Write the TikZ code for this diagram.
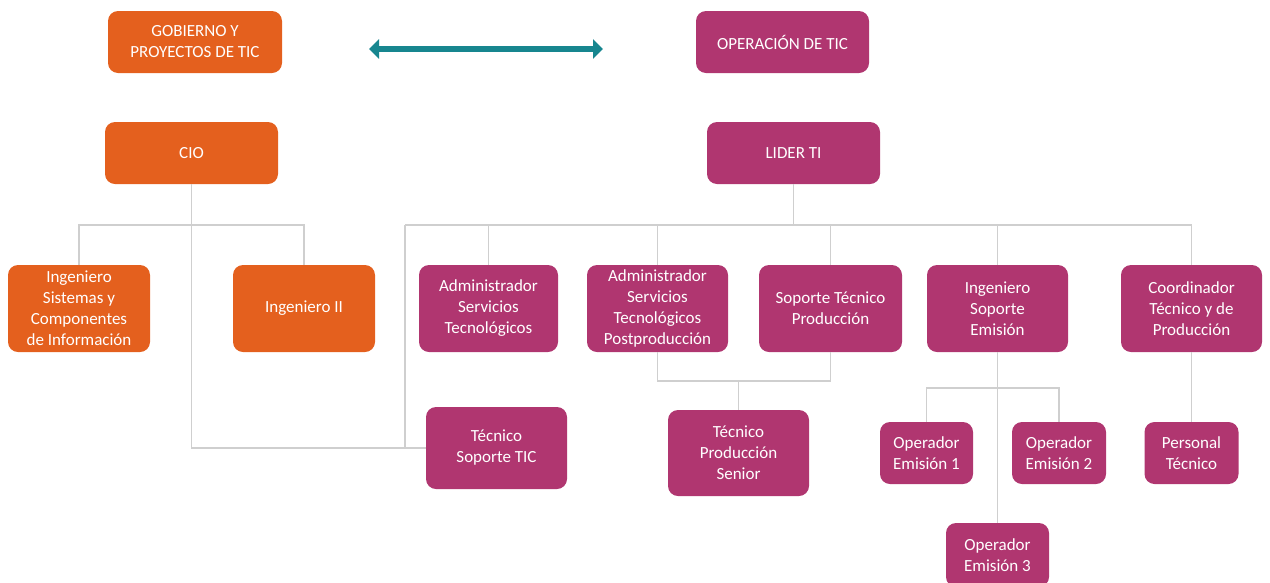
\documentclass[tikz,border=0pt]{standalone}
\usepackage{fontspec}
\setmainfont{Carlito}
\usetikzlibrary{arrows.meta}
\definecolor{orng}{HTML}{E4601E}
\definecolor{mgnt}{HTML}{B03670}
\definecolor{tealc}{HTML}{17868F}
\definecolor{linec}{HTML}{CFCFCF}
\tikzset{
  box/.style={rounded corners=10pt, text=white, align=center, inner sep=0pt,
    font=\fontsize{17}{21}\selectfont},
  obox/.style={box, fill=orng},
  mbox/.style={box, fill=mgnt},
  wide/.style={minimum width=142pt, minimum height=87pt},
  conn/.style={draw=linec, line width=1.1pt},
  tealarrow/.style={draw=tealc, line width=5.5pt,
    {Triangle[width=19pt,length=10pt]}-{Triangle[width=19pt,length=10pt]}}
}
\begin{document}
\begin{tikzpicture}[x=1pt,y=-1pt]
\useasboundingbox (0,0) rectangle (1270,582);
\clip (0,0) rectangle (1270,582);
% top row
\node[obox, minimum width=174pt, minimum height=62pt] (gob) at (195,42) {GOBIERNO Y\\PROYECTOS DE TIC};
\node[mbox, minimum width=173pt, minimum height=62pt] (oper) at (782.5,42) {OPERACIÓN DE TIC};
\coordinate (aL) at (369,49);
\coordinate (aR) at (603,49);
\draw[tealarrow] (aL) -- (aR);
% heads
\node[obox, minimum width=173pt, minimum height=62pt] (cio) at (191.5,153) {CIO};
\node[mbox, minimum width=173pt, minimum height=62pt] (lider) at (793.5,153) {LIDER TI};
% second level
\node[obox, wide] (isc) at (79,308.5) {Ingeniero\\Sistemas y\\Componentes\\de Información};
\node[obox, wide] (i2) at (304,308.5) {Ingeniero II};
\node[mbox, minimum width=139pt, minimum height=87pt] (ast) at (488.5,308.5) {Administrador\\Servicios\\Tecnológicos};
\node[mbox, minimum width=141pt, minimum height=87pt] (ap) at (657.5,308.5) {Administrador\\Servicios\\Tecnológicos\\Postproducción};
\node[mbox, minimum width=143pt, minimum height=87pt] (stp) at (830.5,308.5) {Soporte Técnico\\Producción};
\node[mbox, minimum width=141pt, minimum height=87pt] (ise) at (997.5,308.5) {Ingeniero\\Soporte\\Emisión};
\node[mbox, minimum width=141pt, minimum height=87pt] (coord) at (1191.5,308.5) {Coordinador\\Técnico y de\\Producción};
% third level
\node[mbox, minimum width=141pt, minimum height=82pt] (tst) at (496.5,448) {Técnico\\Soporte TIC};
\node[mbox, minimum width=141pt, minimum height=86pt] (tps) at (738.5,453) {Técnico\\Producción\\Senior};
\node[mbox, minimum width=93pt, minimum height=62pt] (op1) at (926.5,453) {Operador\\Emisión 1};
\node[mbox, minimum width=94pt, minimum height=62pt] (op2) at (1059,453) {Operador\\Emisión 2};
\node[mbox, minimum width=94pt, minimum height=62pt] (pt) at (1191.5,453) {Personal\\Técnico};
\node[mbox, minimum width=103pt, minimum height=64pt] (op3) at (997.5,555) {Operador\\Emisión 3};
% connectors - CIO
\coordinate (cbus) at (191.5,225);
\draw[conn] (cio.south) |- (tst.west);
\draw[conn] (isc.north) |- (i2.north |- cbus) -- (i2.north);
% connectors - LIDER
\coordinate (lbusL) at (405,225);
\draw[conn] (lider.south) -- (lider.south |- lbusL);
\draw[conn] (lbusL) -- (coord.north |- lbusL) -- (coord.north);
\draw[conn] (lbusL) |- (tst.west);
\draw[conn] (ast.north) -- (ast.north |- lbusL);
\draw[conn] (ap.north) -- (ap.north |- lbusL);
\draw[conn] (stp.north) -- (stp.north |- lbusL);
\draw[conn] (ise.north) -- (ise.north |- lbusL);
% postproduccion group
\coordinate (pbus) at (738.5,381);
\draw[conn] (ap.south) |- (pbus) -| (stp.south);
\draw[conn] (pbus) -- (tps.north);
% emision group
\coordinate (ebus) at (997.5,388);
\draw[conn] (ise.south) -- (op3.north);
\draw[conn] (op1.north) |- (ebus) -| (op2.north);
% coordinador
\draw[conn] (coord.south) -- (pt.north);
\end{tikzpicture}
\end{document}
